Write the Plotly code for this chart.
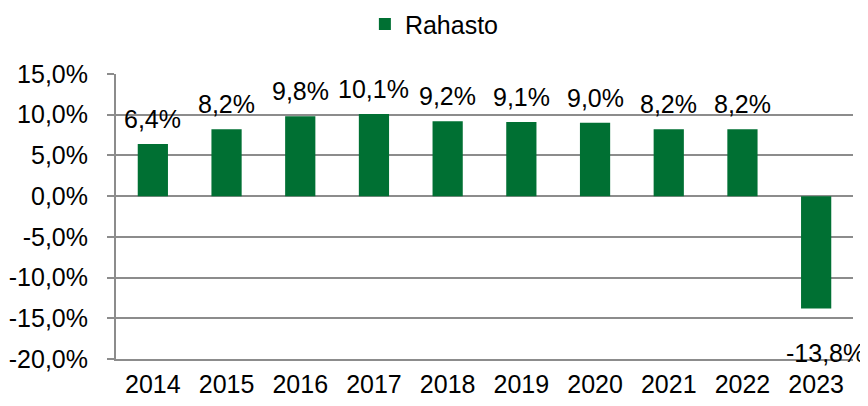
import plotly.graph_objects as go

years = ["2014", "2015", "2016", "2017", "2018", "2019", "2020", "2021", "2022", "2023"]
values = [6.4, 8.2, 9.8, 10.1, 9.2, 9.1, 9.0, 8.2, 8.2, -13.8]
labels = ["6,4%", "8,2%", "9,8%", "10,1%", "9,2%", "9,1%", "9,0%", "8,2%", "8,2%", "-13,8%"]
tick_vals = [15, 10, 5, 0, -5, -10, -15, -20]
tick_text = ["15,0%", "10,0%", "5,0%", "0,0%", "-5,0%", "-10,0%", "-15,0%", "-20,0%"]

FONT = "Liberation Sans, Arial, sans-serif"
FS = 25
GREEN = "#007033"
GRID = "#8c8c8c"

fig = go.Figure()
fig.add_trace(go.Bar(
    x=years, y=values, name="Rahasto",
    marker=dict(color=GREEN, line=dict(width=0)),
    width=0.41,
))

annotations = []
for i, (v, t) in enumerate(zip(values, labels)):
    if v >= 0:
        annotations.append(dict(x=i, y=v, text=t, showarrow=False, xref="x", yref="y",
                                yanchor="bottom", yshift=9,
                                font=dict(family=FONT, size=FS, color="#000")))
    else:
        annotations.append(dict(x=i, y=v, text=t, showarrow=False, xref="x", yref="y",
                                yanchor="top", yshift=-28, xshift=9,
                                font=dict(family=FONT, size=FS, color="#000")))

fig.update_layout(
    width=860, height=398,
    margin=dict(l=108, r=15, t=66, b=47, autoexpand=False),
    paper_bgcolor="white", plot_bgcolor="white",
    font=dict(family=FONT, size=FS, color="#000"),
    showlegend=True,
    legend=dict(orientation="h", x=0.432, xanchor="center", y=1.175, yanchor="middle",
                yref="paper", font=dict(family=FONT, size=FS, color="#000"),
                itemwidth=30, bgcolor="rgba(0,0,0,0)"),
    annotations=annotations,
)
fig.update_xaxes(type="category", range=[-0.5, 9.5], showgrid=False, automargin=False,
                 showline=True, linecolor=GRID, linewidth=2,
                 ticks="outside", ticklen=2, tickcolor="rgba(0,0,0,0)",
                 tickfont=dict(family=FONT, size=FS, color="#000"))
fig.update_yaxes(range=[-20, 15], tickvals=tick_vals, ticktext=tick_text, automargin=False,
                 showgrid=True, gridcolor=GRID, gridwidth=2,
                 showline=True, linecolor=GRID, linewidth=2,
                 ticks="outside", ticklen=7, tickcolor=GRID, tickwidth=2,
                 ticklabelstandoff=14,
                 zeroline=True, zerolinecolor=GRID, zerolinewidth=2,
                 tickfont=dict(family=FONT, size=FS, color="#000"))

fig.write_html("out.html")
